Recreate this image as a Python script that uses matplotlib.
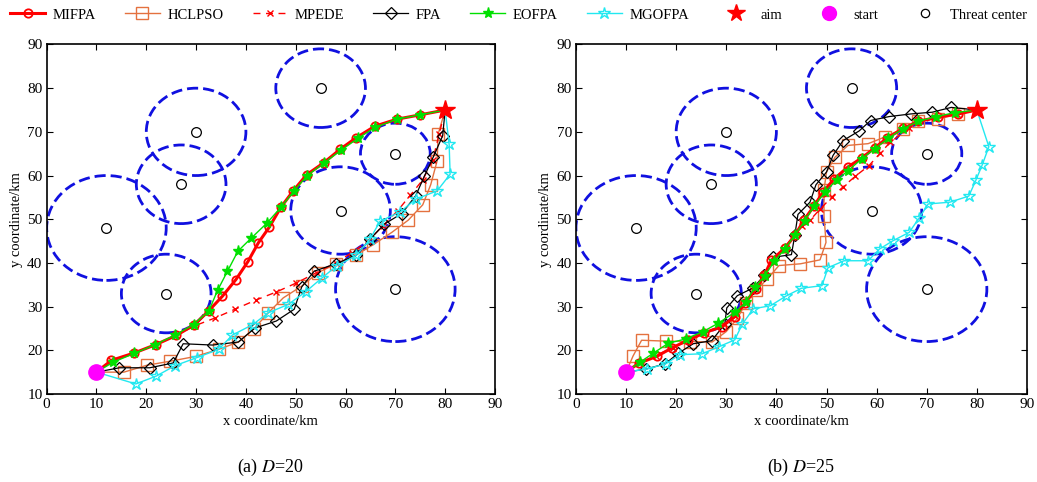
import matplotlib.pyplot as plt
from matplotlib.patches import Circle
from matplotlib.lines import Line2D

plt.rcParams['font.family'] = ['Liberation Serif', 'DejaVu Serif']
plt.rcParams['mathtext.fontset'] = 'stix'

# threats
threat_x = [12, 27, 30, 24, 55, 59, 70, 70]
threat_y = [48, 58, 70, 33, 80, 52, 65, 34]
threat_r = [12, 9, 10, 9, 9, 10, 7, 12]

start = (10, 15)
aim = (80, 75)

# ---- D = 20 ----
mifpa_20_x = [13.0, 17.6, 21.9, 26.0, 29.6, 32.5, 35.3, 38.0, 40.4, 42.5, 44.7, 47.0, 49.5, 52.2, 55.6, 58.9, 62.2, 65.9, 70.3, 75.0]
mifpa_20_y = [17.7, 19.4, 21.3, 23.4, 25.8, 29.0, 32.4, 36.2, 40.3, 44.6, 48.2, 52.7, 56.5, 60.2, 62.9, 66.0, 68.7, 71.3, 72.9, 73.9]
hclpso_20_x = [15.5, 20.2, 24.8, 29.9, 34.5, 38.5, 41.6, 44.5, 47.5, 51.2, 54.5, 58.0, 62.1, 65.6, 69.3, 72.6, 75.5, 77.1, 78.4, 78.6]
hclpso_20_y = [15.0, 16.6, 17.5, 18.6, 20.2, 21.9, 24.9, 28.6, 32.0, 34.7, 37.8, 39.7, 41.8, 44.2, 47.0, 49.8, 53.3, 57.9, 63.4, 69.5]
mpede_20_x = [13.0, 17.6, 21.9, 26.0, 29.7, 33.8, 37.8, 42.0, 46.0, 50.1, 54.2, 58.0, 61.2, 64.5, 67.5, 70.5, 73.0, 75.5, 77.5, 78.8]
mpede_20_y = [17.7, 19.4, 21.3, 23.4, 25.6, 27.4, 29.4, 31.5, 33.3, 35.4, 37.8, 40.0, 42.3, 45.0, 48.5, 52.0, 55.5, 59.0, 63.5, 69.5]
fpa_20_x = [14.6, 20.7, 25.4, 27.4, 33.3, 38.5, 41.8, 46.1, 49.7, 51.2, 53.7, 58.0, 62.1, 64.9, 67.8, 71.3, 74.1, 75.8, 77.6, 79.5]
fpa_20_y = [16.0, 16.0, 17.1, 21.5, 21.2, 21.9, 25.1, 26.7, 29.4, 34.5, 38.1, 39.8, 41.7, 45.4, 48.9, 51.3, 55.4, 59.8, 64.2, 69.1]
eofpa_20_x = [13.4, 17.6, 21.8, 25.8, 29.5, 32.6, 34.3, 36.3, 38.4, 41.0, 44.2, 47.0, 49.7, 52.2, 55.6, 59.1, 62.6, 65.9, 70.3, 75.0]
eofpa_20_y = [17.3, 19.3, 21.3, 23.5, 25.9, 29.1, 33.7, 38.1, 42.7, 45.6, 49.1, 52.7, 56.5, 59.9, 62.8, 65.8, 68.6, 71.0, 72.9, 73.9]
mgofpa_20_x = [17.9, 22.0, 25.8, 30.1, 34.5, 37.3, 41.4, 44.5, 48.5, 52.0, 55.2, 58.2, 62.1, 64.9, 66.9, 71.0, 74.1, 78.4, 81.0, 80.8]
mgofpa_20_y = [12.3, 14.1, 16.5, 18.3, 20.2, 23.5, 25.9, 28.6, 30.5, 33.4, 36.5, 39.3, 41.7, 45.4, 49.5, 51.7, 54.6, 56.5, 60.3, 67.2]

# ---- D = 25 ----
mifpa_25_x = [12.5, 16.1, 19.1, 22.3, 25.6, 29.1, 31.7, 33.7, 35.9, 37.6, 39.0, 41.7, 43.7, 45.5, 47.5, 49.3, 51.5, 54.2, 57.0, 59.6, 62.0, 65.3, 68.3, 72.3, 76.3]
mifpa_25_y = [17.0, 18.6, 20.5, 22.3, 24.0, 25.4, 27.7, 30.8, 34.0, 37.2, 40.6, 43.4, 46.3, 49.8, 53.0, 56.2, 59.2, 61.9, 64.0, 66.3, 68.5, 70.8, 72.4, 73.4, 74.1]
hclpso_25_x = [11.4, 13.1, 17.9, 22.8, 27.2, 30.0, 32.2, 33.9, 35.9, 38.2, 40.5, 44.8, 48.7, 49.9, 49.5, 49.5, 50.0, 51.7, 54.3, 58.3, 61.6, 65.2, 68.3, 72.3, 76.3]
hclpso_25_y = [18.7, 22.3, 22.1, 22.0, 21.9, 24.3, 27.3, 30.8, 33.8, 36.3, 39.4, 39.8, 40.7, 44.7, 50.8, 56.7, 60.8, 64.2, 66.9, 67.3, 68.8, 70.7, 72.6, 73.0, 74.0]
mpede_25_x = [12.5, 16.0, 19.3, 22.5, 25.8, 29.0, 31.8, 33.8, 35.8, 37.7, 39.3, 41.5, 43.5, 45.2, 46.8, 48.7, 51.0, 53.3, 55.7, 58.5, 60.7, 62.7, 66.5, 71.5, 76.0]
mpede_25_y = [17.0, 18.8, 20.6, 22.2, 23.9, 25.5, 27.8, 30.9, 34.0, 37.2, 40.3, 43.3, 46.3, 48.4, 49.9, 52.3, 55.0, 57.4, 59.8, 62.3, 65.1, 67.6, 70.8, 73.2, 74.2]
fpa_25_x = [14.0, 17.8, 20.4, 23.4, 27.1, 29.7, 30.1, 32.2, 35.4, 37.6, 39.4, 43.0, 43.7, 44.3, 46.7, 47.9, 50.0, 51.3, 53.3, 56.5, 58.8, 62.5, 66.8, 71.1, 74.9]
fpa_25_y = [15.7, 16.9, 19.3, 21.5, 22.2, 26.0, 29.7, 32.5, 34.3, 37.2, 41.3, 41.9, 46.5, 51.1, 53.9, 57.9, 60.8, 64.6, 68.0, 70.2, 72.6, 73.5, 74.1, 74.5, 75.6]
eofpa_25_x = [12.8, 15.4, 18.4, 21.9, 25.4, 28.4, 31.7, 33.9, 35.7, 37.7, 39.6, 41.7, 43.7, 45.7, 47.5, 49.7, 52.0, 54.3, 57.0, 59.6, 62.3, 65.2, 68.3, 71.9, 75.6]
eofpa_25_y = [17.3, 19.3, 21.6, 22.6, 24.3, 26.2, 28.7, 31.0, 34.4, 37.1, 40.4, 43.2, 46.4, 49.7, 53.0, 56.2, 59.0, 61.1, 63.8, 66.1, 68.5, 70.7, 72.4, 73.5, 74.4]
mgofpa_25_x = [14.1, 17.9, 20.7, 25.2, 28.5, 31.7, 33.2, 35.4, 38.8, 41.9, 45.0, 49.1, 50.3, 53.5, 58.3, 60.6, 63.3, 66.5, 68.5, 70.3, 74.6, 78.4, 79.8, 81.1, 82.4]
mgofpa_25_y = [15.7, 16.9, 19.0, 19.2, 20.8, 22.4, 26.0, 29.5, 30.2, 32.4, 34.2, 34.8, 38.9, 40.5, 40.5, 43.2, 45.1, 47.0, 50.3, 53.5, 53.9, 55.3, 58.9, 62.5, 66.6]

names = ['MIFPA', 'HCLPSO', 'MPEDE', 'FPA', 'EOFPA', 'MGOFPA']
styles = {
    'MIFPA':  dict(color='#FF0000', lw=2.2, ls='-', marker='o', ms=6, mfc='none', mew=1.3),
    'HCLPSO': dict(color='#E4713F', lw=1.0, ls='-', marker='s', ms=8, mfc='none', mew=1.0),
    'MPEDE':  dict(color='#FF0000', lw=1.0, ls=(0, (5, 4)), marker='x', ms=5, mew=1.0),
    'FPA':    dict(color='black', lw=0.9, ls='-', marker='D', ms=6, mfc='none', mew=0.9),
    'EOFPA':  dict(color='#00E000', lw=1.0, ls='-', marker='*', ms=8, mew=1.0),
    'MGOFPA': dict(color='#22E8F0', lw=1.0, ls='-', marker='*', ms=9, mfc='none', mew=1.0),
}
panels = [
    ('(a) $D$=20', {'MIFPA': (mifpa_20_x, mifpa_20_y), 'HCLPSO': (hclpso_20_x, hclpso_20_y),
                    'MPEDE': (mpede_20_x, mpede_20_y), 'FPA': (fpa_20_x, fpa_20_y),
                    'EOFPA': (eofpa_20_x, eofpa_20_y), 'MGOFPA': (mgofpa_20_x, mgofpa_20_y)}),
    ('(b) $D$=25', {'MIFPA': (mifpa_25_x, mifpa_25_y), 'HCLPSO': (hclpso_25_x, hclpso_25_y),
                    'MPEDE': (mpede_25_x, mpede_25_y), 'FPA': (fpa_25_x, fpa_25_y),
                    'EOFPA': (eofpa_25_x, eofpa_25_y), 'MGOFPA': (mgofpa_25_x, mgofpa_25_y)}),
]

fig = plt.figure(figsize=(10.37, 4.82), dpi=100)
ax_pos = [[0.045, 0.1826, 0.4323, 0.7251], [0.5554, 0.1826, 0.4349, 0.7251]]

draw_order = ['HCLPSO', 'MPEDE', 'FPA', 'MGOFPA', 'MIFPA', 'EOFPA']
for pos, (caption, series) in zip(ax_pos, panels):
    ax = fig.add_axes(pos)
    for cx, cy, r in zip(threat_x, threat_y, threat_r):
        ax.add_patch(Circle((cx, cy), r, fill=False, ec='#1010E0', lw=2.0, ls=(0, (4, 1.8)), zorder=2))
    ax.plot(threat_x, threat_y, 'o', ms=7, mfc='none', mec='black', mew=0.9, ls='none', zorder=3)
    for name in draw_order:
        xs, ys = series[name]
        px = [start[0]] + xs + [aim[0]]
        py = [start[1]] + ys + [aim[1]]
        ax.plot(px, py, markevery=slice(1, len(px) - 1), zorder=4, **styles[name])
    ax.plot(*aim, '*', color='#FF0000', ms=15, zorder=6)
    ax.plot(*start, 'o', color='#FF00FF', ms=11, zorder=6)
    ax.set_xlim(0, 90)
    ax.set_ylim(10, 90)
    ax.set_xticks(range(0, 91, 10))
    ax.set_yticks(range(10, 91, 10))
    ax.tick_params(direction='in', top=True, right=True, labelsize=11, length=4, pad=3)
    for sp in ax.spines.values():
        sp.set_linewidth(1.2)
    ax.set_xlabel('x coordinate/km', fontsize=10.5, labelpad=3)
    ax.set_ylabel('y coordinate/km', fontsize=10.5, labelpad=3)
    ax.text(0.5, -0.209, caption, transform=ax.transAxes, ha='center', va='center', fontsize=13)

handles = [Line2D([], [], **styles[n]) for n in names]
handles += [
    Line2D([], [], ls='none', marker='*', color='#FF0000', ms=13),
    Line2D([], [], ls='none', marker='o', color='#FF00FF', ms=10),
    Line2D([], [], ls='none', marker='o', ms=6, mfc='none', mec='black', mew=0.9),
]
labels = names + ['aim', 'start', 'Threat center']
fig.legend(handles, labels, loc='upper center', bbox_to_anchor=(0.5, 1.01), ncol=9, frameon=False,
           fontsize=10.5, handlelength=2.4, columnspacing=2.0, handletextpad=0.5)

fig.savefig('out.png', dpi=100)
